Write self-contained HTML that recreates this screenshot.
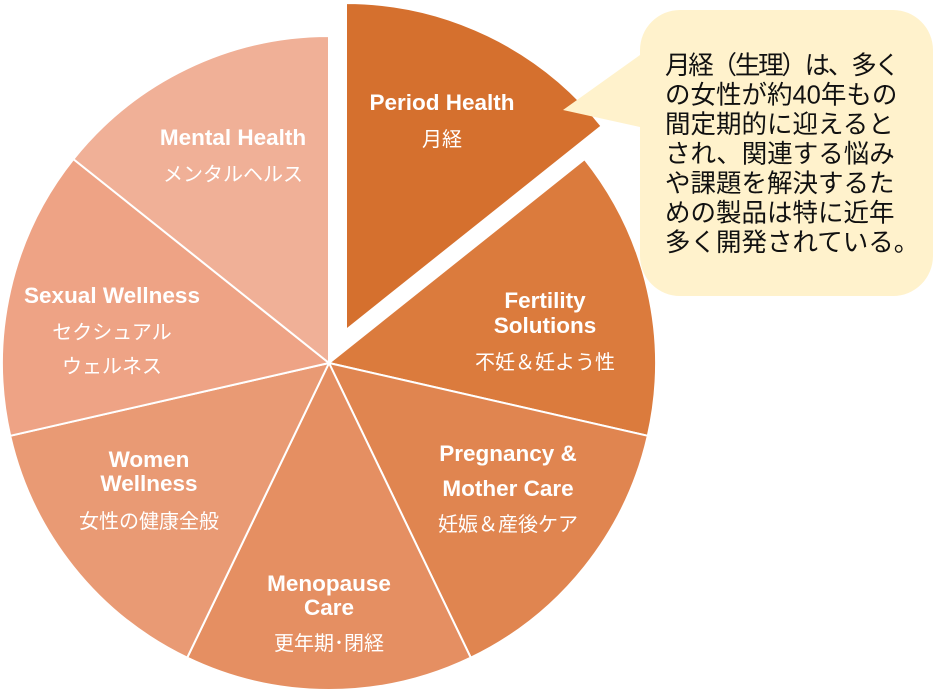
<!DOCTYPE html>
<html><head><meta charset="utf-8"><style>
html,body{margin:0;padding:0;background:#fff;}
svg{display:block;}
.l{font-family:"Liberation Sans","Noto Sans CJK JP",sans-serif;font-weight:bold;font-size:22.5px;fill:#fff;text-anchor:middle;}
.j{font-family:"Liberation Sans","Noto Sans CJK JP",sans-serif;font-size:20px;fill:#fff;text-anchor:middle;}
.c{font-family:"Liberation Sans","Noto Sans CJK JP",sans-serif;font-size:25.5px;fill:#111;}
</style></head><body>
<svg width="940" height="693" viewBox="0 0 940 693" xmlns="http://www.w3.org/2000/svg">
<g stroke="#fff" stroke-width="2" stroke-linejoin="round">
<path d="M329,363 L584.6,159.1 A327,327 0 0 1 647.8,435.8 Z" fill="#DB7B3D"/>
<path d="M329,363 L647.8,435.8 A327,327 0 0 1 470.8,657.7 Z" fill="#E08550"/>
<path d="M329,363 L470.8,657.7 A327,327 0 0 1 187.2,657.7 Z" fill="#E58F62"/>
<path d="M329,363 L187.2,657.7 A327,327 0 0 1 10.2,435.8 Z" fill="#E99A74"/>
<path d="M329,363 L10.2,435.8 A327,327 0 0 1 73.4,159.1 Z" fill="#EEA385"/>
<path d="M329,363 L73.4,159.1 A327,327 0 0 1 329,36 Z" fill="#F0B097"/>
<path d="M346,330 L346,3 A327,327 0 0 1 601.6,126.1 Z" fill="#D5702E"/>
</g>
<path d="M680,10 H893 A40,40 0 0 1 933,50 V256 A40,40 0 0 1 893,296 H680 A40,40 0 0 1 640,256 V127 L563,110 L640,55 V50 A40,40 0 0 1 680,10 Z" fill="#FFF2CC"/>
<text class="c" x="665" y="74" textLength="235">月経（生理）は、多く</text>
<text class="c" x="665" y="103.5">の女性が約40年もの</text>
<text class="c" x="665" y="133">間定期的に迎えると</text>
<text class="c" x="665" y="162.5">され、関連する悩み</text>
<text class="c" x="665" y="192">や課題を解決するた</text>
<text class="c" x="665" y="221.5">めの製品は特に近年</text>
<text class="c" x="665" y="251">多く開発されている。</text>
<text class="l" x="442" y="110">Period Health</text>
<text class="j" x="442" y="146">月経</text>
<text class="l" x="545" y="308">Fertility</text>
<text class="l" x="545" y="333">Solutions</text>
<text class="j" x="545" y="369">不妊＆妊よう性</text>
<text class="l" x="508" y="461">Pregnancy &amp;</text>
<text class="l" x="508" y="496">Mother Care</text>
<text class="j" x="508" y="531">妊娠＆産後ケア</text>
<text class="l" x="329" y="591">Menopause</text>
<text class="l" x="329" y="615">Care</text>
<text class="j" x="329" y="650">更年期･閉経</text>
<text class="l" x="149" y="467">Women</text>
<text class="l" x="149" y="491">Wellness</text>
<text class="j" x="149" y="528">女性の健康全般</text>
<text class="l" x="112" y="303">Sexual Wellness</text>
<text class="j" x="112" y="339">セクシュアル</text>
<text class="j" x="112" y="373">ウェルネス</text>
<text class="l" x="233" y="145">Mental Health</text>
<text class="j" x="233" y="181">メンタルヘルス</text>
</svg>
</body></html>
